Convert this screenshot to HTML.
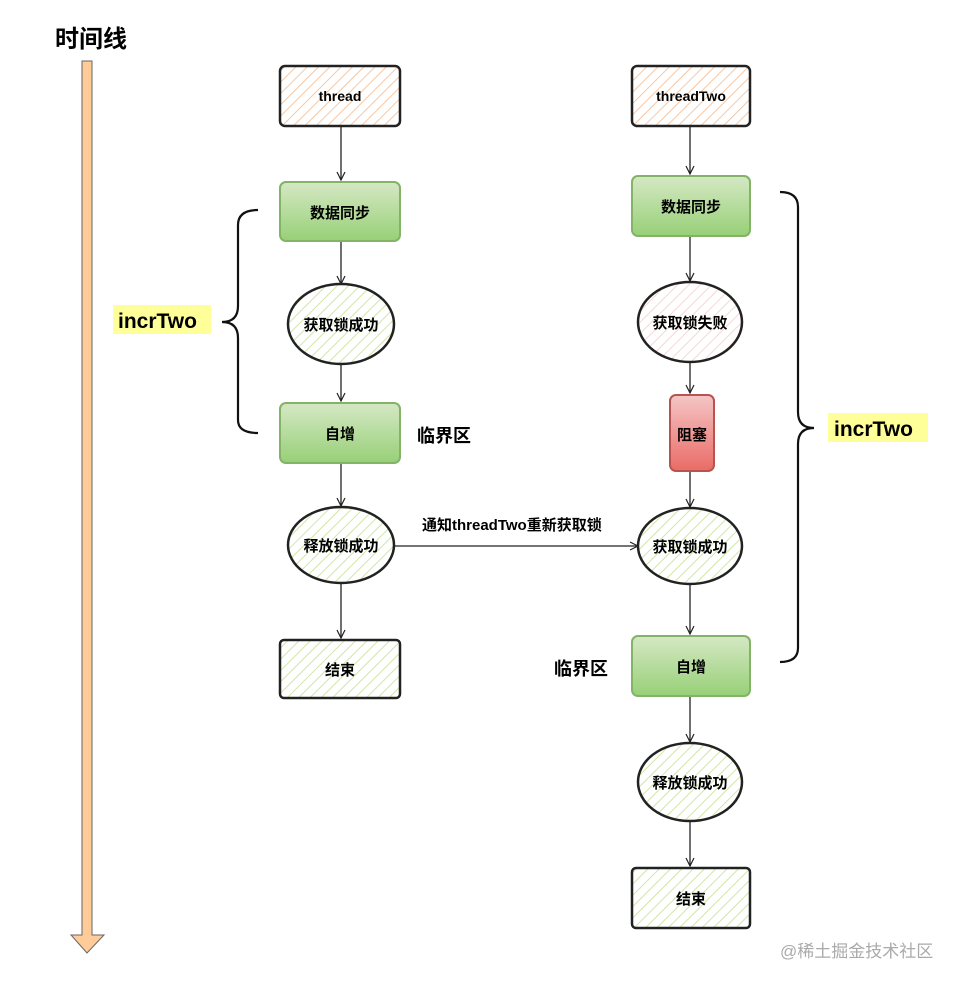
<!DOCTYPE html>
<html><head><meta charset="utf-8"><style>
html,body{margin:0;padding:0;background:#fff;width:966px;height:987px;overflow:hidden}
svg{display:block}
text{font-family:"Liberation Sans","Noto Sans CJK SC",sans-serif;font-weight:bold;fill:#000}
</style></head><body>
<svg width="966" height="987" viewBox="0 0 966 987" xmlns="http://www.w3.org/2000/svg">
<defs>
<pattern id="ho" width="8" height="8" patternUnits="userSpaceOnUse" patternTransform="rotate(45)"><rect width="8" height="8" fill="#fff"/><line x1="0" y1="0" x2="0" y2="8" stroke="#f7c7a3" stroke-width="2"/></pattern>
<pattern id="hg" width="8" height="8" patternUnits="userSpaceOnUse" patternTransform="rotate(45)"><rect width="8" height="8" fill="#fff"/><line x1="0" y1="0" x2="0" y2="8" stroke="#cfe6a8" stroke-width="2"/></pattern>
<pattern id="hp" width="8" height="8" patternUnits="userSpaceOnUse" patternTransform="rotate(45)"><rect width="8" height="8" fill="#fff"/><line x1="0" y1="0" x2="0" y2="8" stroke="#f6d7d7" stroke-width="2"/></pattern>
<linearGradient id="gg" x1="0" y1="0" x2="0" y2="1"><stop offset="0" stop-color="#d5e8c4"/><stop offset="1" stop-color="#97d077"/></linearGradient>
<linearGradient id="gr" x1="0" y1="0" x2="0" y2="1"><stop offset="0" stop-color="#f4c6c6"/><stop offset="1" stop-color="#ea6b66"/></linearGradient>
<marker id="ar" markerWidth="10" markerHeight="10" refX="9" refY="5" orient="auto" markerUnits="userSpaceOnUse"><path d="M1,1 L9,5 L1,9" fill="none" stroke="#222" stroke-width="1.2"/></marker>
</defs>

<text x="55" y="47" font-size="24">时间线</text>
<path d="M82,61 H92 V935 H104 L87,953 L71,935 H82 Z" fill="#ffcc99" stroke="#666" stroke-width="1"/>

<g stroke="#222" stroke-width="1.3" fill="none">
<line x1="341" y1="127" x2="341" y2="180" marker-end="url(#ar)"/>
<line x1="341" y1="242" x2="341" y2="284" marker-end="url(#ar)"/>
<line x1="341" y1="364" x2="341" y2="401" marker-end="url(#ar)"/>
<line x1="341" y1="464" x2="341" y2="506" marker-end="url(#ar)"/>
<line x1="341" y1="584" x2="341" y2="638" marker-end="url(#ar)"/>
<line x1="393" y1="546" x2="638" y2="546" marker-end="url(#ar)"/>
<line x1="690" y1="127" x2="690" y2="174" marker-end="url(#ar)"/>
<line x1="690" y1="237" x2="690" y2="281" marker-end="url(#ar)"/>
<line x1="690" y1="363" x2="690" y2="393" marker-end="url(#ar)"/>
<line x1="690" y1="472" x2="690" y2="507" marker-end="url(#ar)"/>
<line x1="690" y1="585" x2="690" y2="634" marker-end="url(#ar)"/>
<line x1="690" y1="697" x2="690" y2="742" marker-end="url(#ar)"/>
<line x1="690" y1="822" x2="690" y2="866" marker-end="url(#ar)"/>
</g>

<rect x="280" y="66" width="120" height="60" rx="5" fill="url(#ho)" stroke="#222" stroke-width="2.5"/>
<text x="340" y="101" font-size="14" text-anchor="middle">thread</text>
<rect x="280" y="182" width="120" height="59" rx="6" fill="url(#gg)" stroke="#82b366" stroke-width="2"/>
<text x="340" y="218" font-size="15" text-anchor="middle">数据同步</text>
<ellipse cx="341" cy="324" rx="53" ry="40" fill="url(#hg)" stroke="#222" stroke-width="2.5"/>
<text x="341" y="330" font-size="15" text-anchor="middle">获取锁成功</text>
<rect x="280" y="403" width="120" height="60" rx="6" fill="url(#gg)" stroke="#82b366" stroke-width="2"/>
<text x="340" y="439" font-size="15" text-anchor="middle">自增</text>
<ellipse cx="341" cy="545" rx="53" ry="38" fill="url(#hg)" stroke="#222" stroke-width="2.5"/>
<text x="341" y="551" font-size="15" text-anchor="middle">释放锁成功</text>
<rect x="280" y="640" width="120" height="58" rx="4" fill="url(#hg)" stroke="#222" stroke-width="2.5"/>
<text x="340" y="675" font-size="15" text-anchor="middle">结束</text>

<rect x="632" y="66" width="118" height="60" rx="5" fill="url(#ho)" stroke="#222" stroke-width="2.5"/>
<text x="691" y="101" font-size="14" text-anchor="middle">threadTwo</text>
<rect x="632" y="176" width="118" height="60" rx="6" fill="url(#gg)" stroke="#82b366" stroke-width="2"/>
<text x="691" y="212" font-size="15" text-anchor="middle">数据同步</text>
<ellipse cx="690" cy="322" rx="52" ry="40" fill="url(#hp)" stroke="#222" stroke-width="2.5"/>
<text x="690" y="328" font-size="15" text-anchor="middle">获取锁失败</text>
<rect x="670" y="395" width="44" height="76" rx="6" fill="url(#gr)" stroke="#b85450" stroke-width="2"/>
<text x="692" y="440" font-size="15" text-anchor="middle">阻塞</text>
<ellipse cx="690" cy="546" rx="52" ry="38" fill="url(#hg)" stroke="#222" stroke-width="2.5"/>
<text x="690" y="552" font-size="15" text-anchor="middle">获取锁成功</text>
<rect x="632" y="636" width="118" height="60" rx="6" fill="url(#gg)" stroke="#82b366" stroke-width="2"/>
<text x="691" y="672" font-size="15" text-anchor="middle">自增</text>
<ellipse cx="690" cy="782" rx="52" ry="39" fill="url(#hg)" stroke="#222" stroke-width="2.5"/>
<text x="690" y="788" font-size="15" text-anchor="middle">释放锁成功</text>
<rect x="632" y="868" width="118" height="60" rx="4" fill="url(#hg)" stroke="#222" stroke-width="2.5"/>
<text x="691" y="904" font-size="15" text-anchor="middle">结束</text>

<text x="422" y="530" font-size="15">通知threadTwo重新获取锁</text>
<text x="417" y="442" font-size="18">临界区</text>
<text x="554" y="675" font-size="18">临界区</text>

<path d="M258,210 Q238,210 238,225 V306 Q238,322 222,322 Q238,322 238,338 V420 Q238,433 258,433" fill="none" stroke="#111" stroke-width="2.2"/>
<path d="M780,192 Q798,192 798,207 V412 Q798,428 814,428 Q798,428 798,444 V648 Q798,662 780,662" fill="none" stroke="#111" stroke-width="2.2"/>

<rect x="113" y="305" width="98" height="29" fill="#ffff99"/>
<text x="118" y="328" font-size="21">incrTwo</text>
<rect x="828" y="413" width="100" height="29" fill="#ffff99"/>
<text x="834" y="436" font-size="21">incrTwo</text>

<text x="780" y="957" font-size="17" style="font-weight:normal;fill:#aaa">@稀土掘金技术社区</text>
</svg>
</body></html>
